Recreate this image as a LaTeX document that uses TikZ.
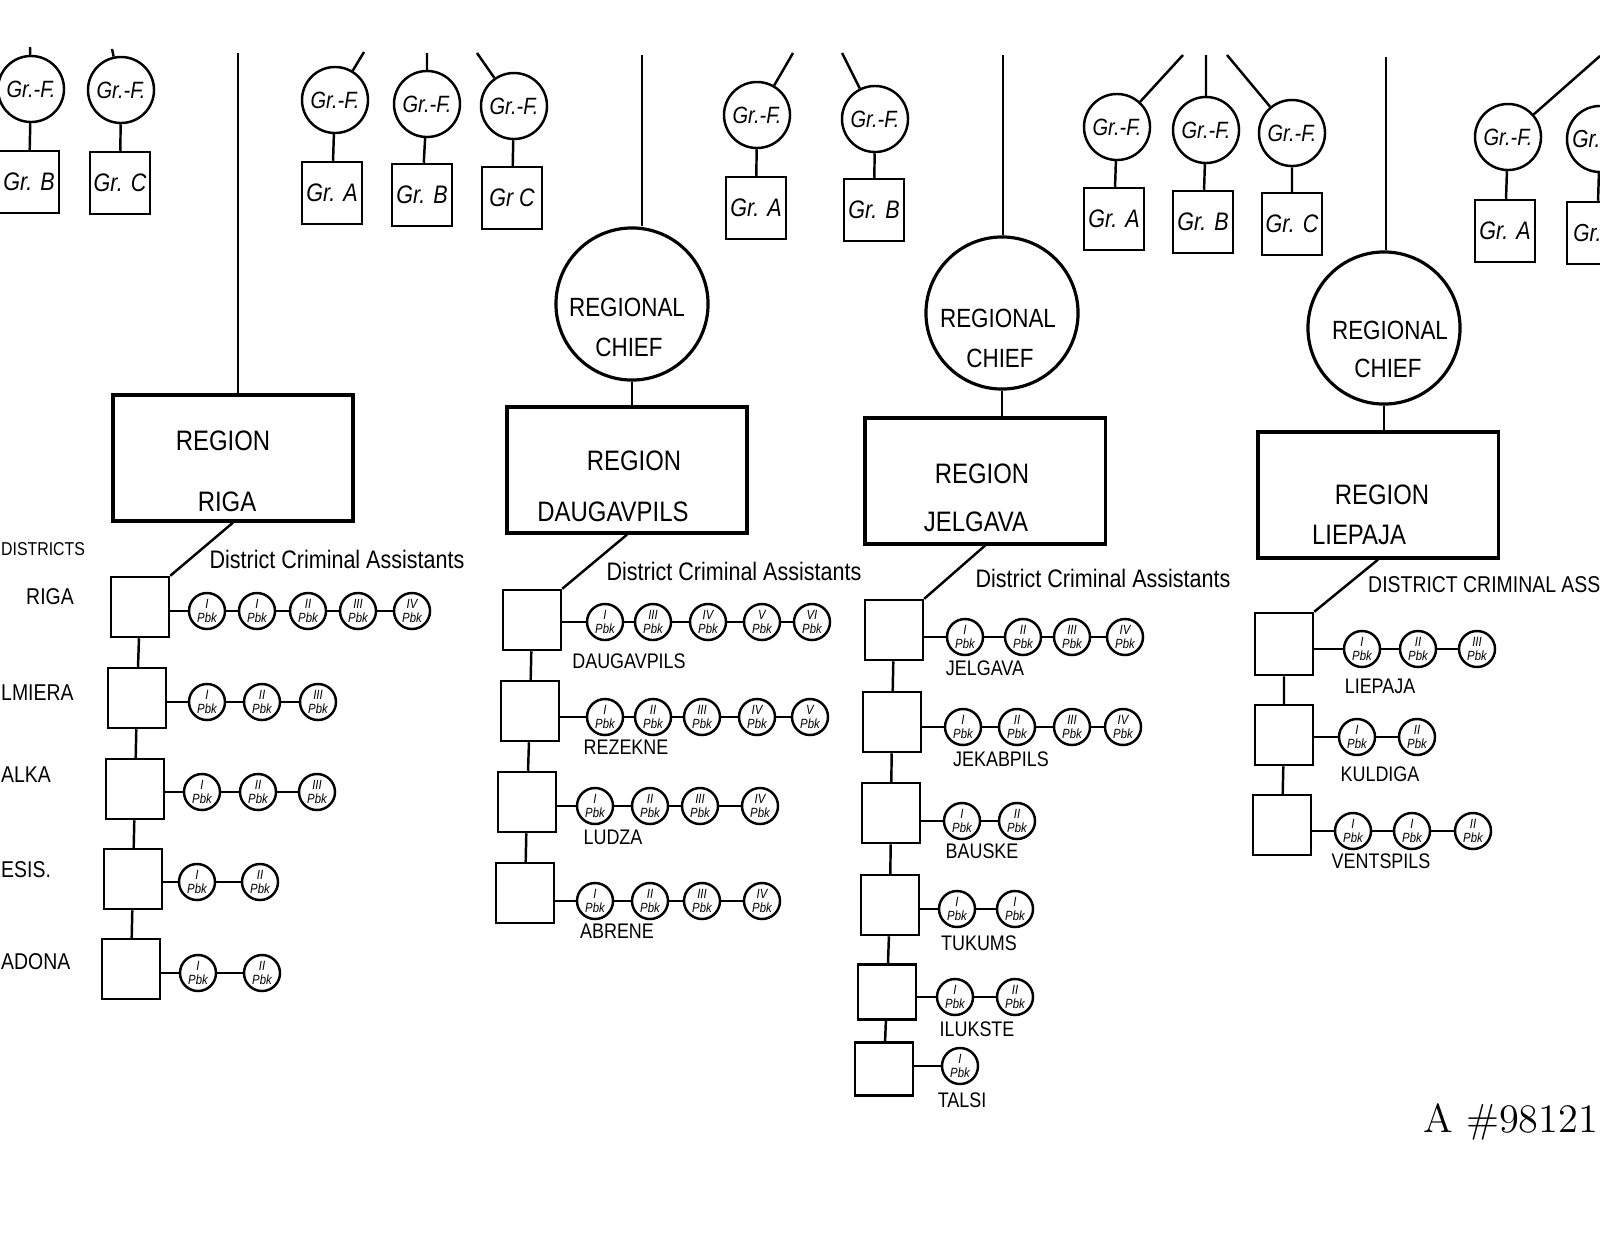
\documentclass[tikz,border=0pt]{standalone}
\usepackage{fontspec}
\newfontfamily\handfont[FakeStretch=0.85]{Liberation Sans}
\usetikzlibrary{positioning,calc}

\begin{document}
\begin{tikzpicture}[x=0.01cm, y=-0.01cm, line width=0.7pt, every node/.style={font=\handfont}]
    % Define styles
    \tikzstyle{region} = [rectangle, draw, line width=0.9pt, minimum width=2.4cm, minimum height=1.26cm]
    \tikzstyle{regtext} = [inner sep=0pt, font=\handfont\fontsize{8}{9}\selectfont]
    \tikzstyle{chief} = [circle, draw, line width=0.9pt, minimum size=1.52cm, inner sep=0pt]
    \tikzstyle{chieftext} = [inner sep=0pt, font=\handfont\fontsize{7.5}{9}\selectfont]
    \tikzstyle{leader} = [circle, draw, minimum size=0.66cm, inner sep=0pt, font=\handfont\itshape\fontsize{6.7}{8}\selectfont]
    \tikzstyle{squad} = [rectangle, draw, minimum width=0.6cm, minimum height=0.62cm, inner sep=0pt, font=\handfont\itshape\fontsize{7.2}{8}\selectfont]
    \tikzstyle{grtext} = [anchor=west, inner sep=0pt, font=\handfont\itshape\fontsize{7}{8}\selectfont]
    \tikzstyle{district} = [rectangle, draw, minimum width=0.58cm, minimum height=0.6cm]
    \tikzstyle{pbk} = [circle, draw, minimum size=0.36cm, inner sep=0pt, align=center, font=\handfont\itshape\fontsize{3.8}{4}\selectfont]
    \tikzstyle{dname} = [inner sep=0pt, font=\handfont\fontsize{6}{7}\selectfont]
    \tikzstyle{assist} = [inner sep=0pt, font=\handfont\fontsize{7.2}{8}\selectfont]
    \tikzstyle{sidename} = [anchor=west, inner sep=0pt, font=\handfont\fontsize{6.5}{7}\selectfont]

    \useasboundingbox (0,0) rectangle (1600,1236);
    \clip (0,0) rectangle (1600,1236);

    % Group leaders and groups (top row)
    \node[leader] (gf1) at (31,89) {Gr.-F.};
    \node[squad] (grp1) at (29,182) {Gr. B};
    \node[leader] (gf2) at (121,90) {Gr.-F.};
    \node[squad] (grp2) at (120,183) {Gr. C};
    \node[leader] (gf3) at (335,100) {Gr.-F.};
    \node[squad] (grp3) at (332,193) {Gr. A};
    \node[leader] (gf4) at (427,104) {Gr.-F.};
    \node[squad] (grp4) at (422,195) {Gr. B};
    \node[leader] (gf5) at (514,106) {Gr.-F.};
    \node[squad] (grp5) at (512,198) {Gr C};
    \node[leader] (gf6) at (757,115) {Gr.-F.};
    \node[squad] (grp6) at (756,208) {Gr. A};
    \node[leader] (gf7) at (875,119) {Gr.-F.};
    \node[squad] (grp7) at (874,210) {Gr. B};
    \node[leader] (gf8) at (1117,127) {Gr.-F.};
    \node[squad] (grp8) at (1114,219) {Gr. A};
    \node[leader] (gf9) at (1206,130) {Gr.-F.};
    \node[squad] (grp9) at (1203,222) {Gr. B};
    \node[leader] (gf10) at (1292,133) {Gr.-F.};
    \node[squad] (grp10) at (1292,224) {Gr. C};
    \node[leader] (gf11) at (1508,137) {Gr.-F.};
    \node[squad] (grp11) at (1505,231) {Gr. A};
    \node[leader] (gf12) at (1600,139) {};
    \node[squad] (grp12) at (1597,233) {};
    \node[grtext] (gf12t) at (1571,139) {Gr.};
    \node[grtext] (grp12t) at (1572,233) {Gr.};

    \coordinate (up1) at (30,47);
    \coordinate (up2) at (112,49);
    \coordinate (up3) at (364,52);
    \coordinate (up4) at (427,53);
    \coordinate (up5) at (477,53);
    \coordinate (up6) at (793,53);
    \coordinate (up7) at (842,53);
    \coordinate (up8) at (1183,55);
    \coordinate (up9) at (1206,55);
    \coordinate (up10) at (1227,55);
    \coordinate (up11) at (1600,56);

    \draw (up1) -- (gf1) -- (grp1);
    \draw (up2) -- (gf2) -- (grp2);
    \draw (up3) -- (gf3) -- (grp3);
    \draw (up4) -- (gf4) -- (grp4);
    \draw (up5) -- (gf5) -- (grp5);
    \draw (up6) -- (gf6) -- (grp6);
    \draw (up7) -- (gf7) -- (grp7);
    \draw (up8) -- (gf8) -- (grp8);
    \draw (up9) -- (gf9) -- (grp9);
    \draw (up10) -- (gf10) -- (grp10);
    \draw (up11) -- (gf11) -- (grp11);
    \draw (gf12) -- (grp12);

    % Regional chiefs and regions
    \node[chief] (chief1) at (632,304) {};
    \node[chieftext] (chief1a) at (627,307) {REGIONAL};
    \node[chieftext] (chief1b) at (629,347) {CHIEF};
    \node[chief] (chief2) at (1002,313) {};
    \node[chieftext] (chief2a) at (998,318) {REGIONAL};
    \node[chieftext] (chief2b) at (1000,358) {CHIEF};
    \node[chief] (chief3) at (1384,328) {};
    \node[chieftext] (chief3a) at (1390,330) {REGIONAL};
    \node[chieftext] (chief3b) at (1388,368) {CHIEF};

    \node[region] (regRiga) at (233,458) {};
    \node[regtext] (regRigaA) at (223,441) {REGION};
    \node[regtext] (regRigaB) at (227,502) {RIGA};
    \node[region] (regDaug) at (627,470) {};
    \node[regtext] (regDaugA) at (634,461) {REGION};
    \node[regtext] (regDaugB) at (613,512) {DAUGAVPILS};
    \node[region] (regJelg) at (985,481) {};
    \node[regtext] (regJelgA) at (982,474) {REGION};
    \node[regtext] (regJelgB) at (976,522) {JELGAVA};
    \node[region] (regLiep) at (1378,495) {};
    \node[regtext] (regLiepA) at (1382,495) {REGION};
    \node[regtext] (regLiepB) at (1359,535) {LIEPAJA};

    \coordinate (upRiga) at (238,53);
    \coordinate (upDaug) at (642,55);
    \coordinate (upJelg) at (1003,55);
    \coordinate (upLiep) at (1386,57);
    \draw (upRiga) -- (upRiga |- regRiga.north);
    \draw (upDaug) -- (upDaug |- chief1.north);
    \draw (upJelg) -- (upJelg |- chief2.north);
    \draw (upLiep) -- (upLiep |- chief3.north);
    \draw (chief1.south) -- (chief1.south |- regDaug.north);
    \draw (chief2.south) -- (chief2.south |- regJelg.north);
    \draw (chief3.south) -- (chief3.south |- regLiep.north);

    % Districts: Riga
    \node[sidename, font=\handfont\fontsize{5.3}{6}\selectfont] (sDistr) at (0,549) {DISTRICTS};
    \node[assist] (aRiga) at (337,559) {District Criminal Assistants};
    \node[sidename] (sRiga) at (25,597) {RIGA};
    \node[sidename] (sValm) at (0,693) {LMIERA};
    \node[sidename] (sValk) at (0,775) {ALKA};
    \node[sidename] (sCes) at (0,870) {ESIS.};
    \node[sidename] (sMad) at (0,962) {ADONA};

    \node[district] (dRiga) at (140,607) {};
    \node[district] (dValm) at (137,698) {};
    \node[district] (dValk) at (135,789) {};
    \node[district] (dCes) at (133,879) {};
    \node[district] (dMad) at (131,969) {};

    \node[pbk] (pRiga1) at (207,611) {I\\Pbk};
    \node[pbk] (pRiga2) at (257,611) {I\\Pbk};
    \node[pbk] (pRiga3) at (308,611) {II\\Pbk};
    \node[pbk] (pRiga4) at (358,611) {III\\Pbk};
    \node[pbk] (pRiga5) at (412,611) {IV\\Pbk};
    \node[pbk] (pValm1) at (207,702) {I\\Pbk};
    \node[pbk] (pValm2) at (262,702) {II\\Pbk};
    \node[pbk] (pValm3) at (318,702) {III\\Pbk};
    \node[pbk] (pValk1) at (202,792) {I\\Pbk};
    \node[pbk] (pValk2) at (258,792) {II\\Pbk};
    \node[pbk] (pValk3) at (317,792) {III\\Pbk};
    \node[pbk] (pCes1) at (197,882) {I\\Pbk};
    \node[pbk] (pCes2) at (260,882) {II\\Pbk};
    \node[pbk] (pMad1) at (198,973) {I\\Pbk};
    \node[pbk] (pMad2) at (262,973) {II\\Pbk};

    \draw (regRiga.south) -- (dRiga.north east);
    \draw (dRiga) -- (dValm) -- (dValk) -- (dCes) -- (dMad);
    \draw (pRiga1 -| dRiga.east) -- (pRiga1) -- (pRiga2) -- (pRiga3) -- (pRiga4) -- (pRiga5);
    \draw (pValm1 -| dValm.east) -- (pValm1) -- (pValm2) -- (pValm3);
    \draw (pValk1 -| dValk.east) -- (pValk1) -- (pValk2) -- (pValk3);
    \draw (pCes1 -| dCes.east) -- (pCes1) -- (pCes2);
    \draw (pMad1 -| dMad.east) -- (pMad1) -- (pMad2);

    % Districts: Daugavpils
    \node[assist] (aDaug) at (734,571) {District Criminal Assistants};
    \node[district] (dDaug) at (532,620) {};
    \node[district] (dRez) at (530,711) {};
    \node[district] (dLud) at (527,802) {};
    \node[district] (dAbr) at (525,893) {};
    \node[dname] (nDaug) at (629,661) {DAUGAVPILS};
    \node[dname] (nRez) at (626,747) {REZEKNE};
    \node[dname] (nLud) at (613,837) {LUDZA};
    \node[dname] (nAbr) at (617,931) {ABRENE};

    \node[pbk] (pDaug1) at (605,622) {I\\Pbk};
    \node[pbk] (pDaug2) at (653,622) {III\\Pbk};
    \node[pbk] (pDaug3) at (708,622) {IV\\Pbk};
    \node[pbk] (pDaug4) at (762,622) {V\\Pbk};
    \node[pbk] (pDaug5) at (812,622) {VI\\Pbk};
    \node[pbk] (pRez1) at (605,717) {I\\Pbk};
    \node[pbk] (pRez2) at (653,717) {II\\Pbk};
    \node[pbk] (pRez3) at (702,717) {III\\Pbk};
    \node[pbk] (pRez4) at (757,717) {IV\\Pbk};
    \node[pbk] (pRez5) at (810,717) {V\\Pbk};
    \node[pbk] (pLud1) at (595,806) {I\\Pbk};
    \node[pbk] (pLud2) at (650,806) {II\\Pbk};
    \node[pbk] (pLud3) at (700,806) {III\\Pbk};
    \node[pbk] (pLud4) at (760,806) {IV\\Pbk};
    \node[pbk] (pAbr1) at (595,901) {I\\Pbk};
    \node[pbk] (pAbr2) at (650,901) {II\\Pbk};
    \node[pbk] (pAbr3) at (702,901) {III\\Pbk};
    \node[pbk] (pAbr4) at (762,901) {IV\\Pbk};

    \draw (regDaug.south) -- (dDaug.north east);
    \draw (dDaug) -- (dRez) -- (dLud) -- (dAbr);
    \draw (pDaug1 -| dDaug.east) -- (pDaug1) -- (pDaug2) -- (pDaug3) -- (pDaug4) -- (pDaug5);
    \draw (pRez1 -| dRez.east) -- (pRez1) -- (pRez2) -- (pRez3) -- (pRez4) -- (pRez5);
    \draw (pLud1 -| dLud.east) -- (pLud1) -- (pLud2) -- (pLud3) -- (pLud4);
    \draw (pAbr1 -| dAbr.east) -- (pAbr1) -- (pAbr2) -- (pAbr3) -- (pAbr4);

    % Districts: Jelgava
    \node[assist] (aJelg) at (1103,578) {District Criminal Assistants};
    \node[district] (dJelg) at (894,630) {};
    \node[district] (dJek) at (892,722) {};
    \node[district] (dBau) at (891,813) {};
    \node[district] (dTuk) at (890,905) {};
    \node[district, minimum height=0.55cm] (dIlu) at (887,992) {};
    \node[district, minimum height=0.53cm] (dTal) at (884,1069) {};
    \node[dname] (nJelg) at (985,668) {JELGAVA};
    \node[dname] (nJek) at (1001,759) {JEKABPILS};
    \node[dname] (nBau) at (982,851) {BAUSKE};
    \node[dname] (nTuk) at (979,943) {TUKUMS};
    \node[dname] (nIlu) at (977,1029) {ILUKSTE};
    \node[dname] (nTal) at (962,1100) {TALSI};

    \node[pbk] (pJelg1) at (965,637) {I\\Pbk};
    \node[pbk] (pJelg2) at (1023,637) {II\\Pbk};
    \node[pbk] (pJelg3) at (1072,637) {III\\Pbk};
    \node[pbk] (pJelg4) at (1125,637) {IV\\Pbk};
    \node[pbk] (pJek1) at (963,727) {I\\Pbk};
    \node[pbk] (pJek2) at (1017,727) {II\\Pbk};
    \node[pbk] (pJek3) at (1072,727) {III\\Pbk};
    \node[pbk] (pJek4) at (1123,727) {IV\\Pbk};
    \node[pbk] (pBau1) at (962,821) {I\\Pbk};
    \node[pbk] (pBau2) at (1017,821) {II\\Pbk};
    \node[pbk] (pTuk1) at (957,909) {I\\Pbk};
    \node[pbk] (pTuk2) at (1015,909) {I\\Pbk};
    \node[pbk] (pIlu1) at (955,997) {I\\Pbk};
    \node[pbk] (pIlu2) at (1015,997) {II\\Pbk};
    \node[pbk] (pTal1) at (960,1066) {I\\Pbk};

    \draw (regJelg.south) -- (dJelg.north east);
    \draw (dJelg) -- (dJek) -- (dBau) -- (dTuk) -- (dIlu) -- (dTal);
    \draw (pJelg1 -| dJelg.east) -- (pJelg1) -- (pJelg2) -- (pJelg3) -- (pJelg4);
    \draw (pJek1 -| dJek.east) -- (pJek1) -- (pJek2) -- (pJek3) -- (pJek4);
    \draw (pBau1 -| dBau.east) -- (pBau1) -- (pBau2);
    \draw (pTuk1 -| dTuk.east) -- (pTuk1) -- (pTuk2);
    \draw (pIlu1 -| dIlu.east) -- (pIlu1) -- (pIlu2);
    \draw (pTal1 -| dTal.east) -- (pTal1);

    % Districts: Liepaja
    \node[sidename] (aLiep) at (1367,585) {DISTRICT CRIMINAL ASS};
    \node[district, minimum height=0.62cm] (dLiep) at (1284,644) {};
    \node[district] (dKul) at (1284,735) {};
    \node[district] (dVen) at (1282,825) {};
    \node[dname] (nLiep) at (1380,686) {LIEPAJA};
    \node[dname] (nKul) at (1380,774) {KULDIGA};
    \node[dname] (nVen) at (1381,861) {VENTSPILS};

    \node[pbk] (pLiep1) at (1362,649) {I\\Pbk};
    \node[pbk] (pLiep2) at (1418,649) {II\\Pbk};
    \node[pbk] (pLiep3) at (1477,649) {III\\Pbk};
    \node[pbk] (pKul1) at (1357,737) {I\\Pbk};
    \node[pbk] (pKul2) at (1417,737) {II\\Pbk};
    \node[pbk] (pVen1) at (1353,831) {I\\Pbk};
    \node[pbk] (pVen2) at (1412,831) {I\\Pbk};
    \node[pbk] (pVen3) at (1473,831) {II\\Pbk};

    \draw (regLiep.south) -- (dLiep.north east);
    \draw (dLiep) -- (dKul) -- (dVen);
    \draw (pLiep1 -| dLiep.east) -- (pLiep1) -- (pLiep2) -- (pLiep3);
    \draw (pKul1 -| dKul.east) -- (pKul1) -- (pKul2);
    \draw (pVen1 -| dVen.east) -- (pVen1) -- (pVen2) -- (pVen3);

    % Archive number
    \node[anchor=west, inner sep=0pt, font=\rmfamily\fontsize{11.5}{12}\selectfont] (stampno) at (1422,1122) {A \#98121};
\end{tikzpicture}
\end{document}
